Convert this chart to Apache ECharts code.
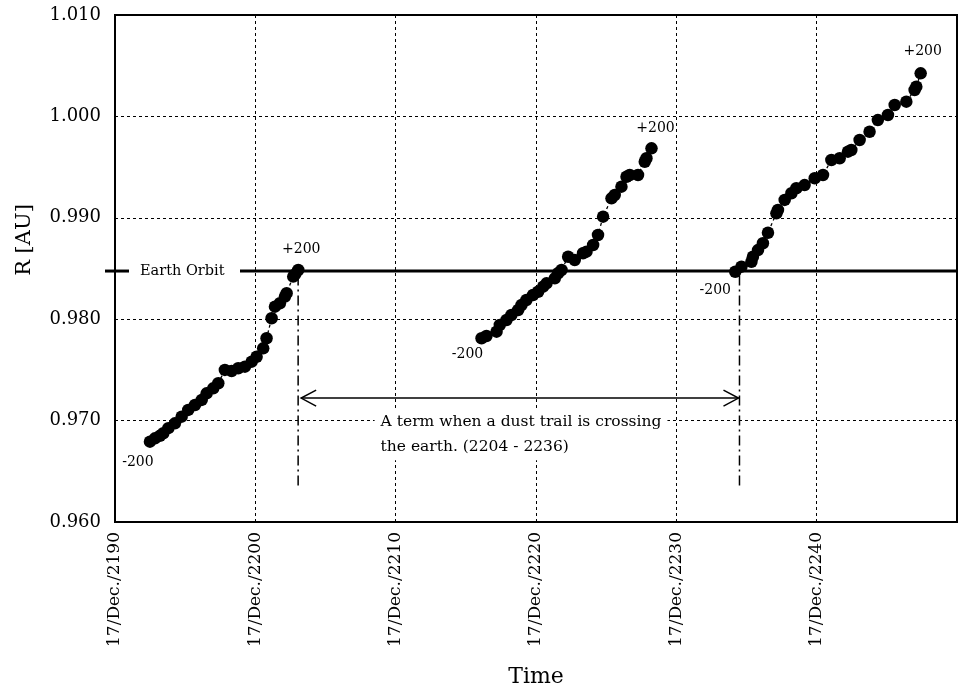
<!DOCTYPE html>
<html><head><meta charset="utf-8">
<script src="https://cdn.jsdelivr.net/npm/echarts@6/dist/echarts.min.js"></script>
<style>html,body{margin:0;padding:0;background:#fff}#c{width:958px;height:691px}</style>
</head><body><div id="c"></div>
<script>
const FONT = 'DejaVu Serif';
const yMin = 0.960, yMax = 1.010, yStep = 0.010;
const xMin = 2190, xMax = 2250, xStep = 10;
const xTickPrefix = '17/Dec./';
const yTitle = 'R [AU]';
const xTitle = 'Time';

const s1Time = [2192.49,2192.85,2193.20,2193.44,2193.80,2194.27,2194.75,2195.22,2195.70,2196.18,2196.53,2197.00,2197.36,2197.83,2198.31,2198.78,2199.26,2199.74,2200.09,2200.56,2200.80,2201.16,2201.40,2201.75,2202.11,2202.23,2202.70,2202.85,2203.06];
const s1R    = [0.96792,0.96825,0.96850,0.96875,0.96925,0.96973,0.97039,0.97105,0.97154,0.97204,0.97269,0.97318,0.97368,0.97500,0.97489,0.97516,0.97532,0.97581,0.97630,0.97713,0.97812,0.98009,0.98124,0.98157,0.98223,0.98257,0.98420,0.98445,0.98485];

const s2Time = [2216.12,2216.47,2217.19,2217.42,2217.90,2218.25,2218.73,2218.97,2219.32,2219.79,2220.15,2220.51,2220.75,2221.34,2221.57,2221.82,2222.29,2222.76,2223.35,2223.60,2224.07,2224.42,2224.78,2225.38,2225.61,2226.09,2226.45,2226.68,2227.27,2227.75,2227.87,2228.23];
const s2R    = [0.97812,0.97834,0.97877,0.97943,0.97992,0.98041,0.98091,0.98140,0.98189,0.98239,0.98271,0.98321,0.98354,0.98403,0.98453,0.98485,0.98616,0.98584,0.98650,0.98666,0.98732,0.98830,0.99011,0.99192,0.99225,0.99307,0.99405,0.99422,0.99422,0.99553,0.99587,0.99685];

const s3Time = [2234.20,2234.64,2235.35,2235.46,2235.82,2236.17,2236.53,2237.13,2237.24,2237.72,2238.20,2238.55,2239.14,2239.86,2240.45,2241.05,2241.64,2242.23,2242.47,2243.06,2243.77,2244.36,2245.08,2245.56,2246.39,2246.98,2247.10,2247.41];
const s3R    = [0.98468,0.98518,0.98567,0.98616,0.98682,0.98749,0.98853,0.99044,0.99077,0.99176,0.99242,0.99291,0.99323,0.99390,0.99422,0.99570,0.99587,0.99652,0.99669,0.99767,0.99849,0.99964,1.00014,1.00112,1.00145,1.00260,1.00293,1.00425];

const endLabels = ['-200', '+200'];
const earthOrbitR = 0.98475;
const earthOrbitText = 'Earth Orbit';
const trailStart = 2203.05, trailEnd = 2234.5;
const trailTopR = 0.9843, trailBottomR = 0.9635;
const arrowR = 0.97222;
const termText = 'A term when a dust trail is crossing\nthe earth. (2204 - 2236)';
const termTextPos = [2208.5, 0.96865];

const labelStyle = {fontFamily: FONT, fontSize: 14, color: '#000'};
const labelOffsets = [
  [[-12, 2], [3, -2]],
  [[-14, -2], [4, -2]],
  [[-20, 0], [2, -4]]
];

function buildData(ts, rs, si) {
  return ts.map((t, i) => {
    const item = {value: [t, rs[i]]};
    if (i === 0 || i === ts.length - 1) {
      const first = i === 0;
      item.label = Object.assign({
        show: true,
        formatter: first ? endLabels[0] : endLabels[1],
        position: first ? 'bottom' : 'top',
        offset: labelOffsets[si][first ? 0 : 1]
      }, labelStyle);
    }
    return item;
  });
}

function mkSeries(ts, rs, si) {
  return {
    type: 'line', data: buildData(ts, rs, si), symbol: 'circle', symbolSize: 12.5,
    showAllSymbol: true, z: 5,
    itemStyle: {color: '#000'},
    lineStyle: {color: '#000', width: 1.3, type: [3, 3]},
    label: {show: false}
  };
}

function renderAnnot(params, api) {
  const cs = params.coordSys;
  const yE = api.coord([xMin, earthOrbitR])[1];
  const right = cs.x + cs.width;
  const ch = [];
  ch.push({type: 'line', shape: {x1: cs.x - 10, y1: yE, x2: cs.x + 14, y2: yE}, style: {stroke: '#000', lineWidth: 3}});
  ch.push({type: 'line', shape: {x1: cs.x + 125, y1: yE, x2: right, y2: yE}, style: {stroke: '#000', lineWidth: 3}});
  ch.push({type: 'text', x: cs.x + 25, y: yE, style: {text: earthOrbitText, font: '14.5px "DejaVu Serif"', fill: '#000', align: 'left', verticalAlign: 'middle'}});
  [trailStart, trailEnd].forEach(t => {
    const a = api.coord([t, trailTopR]), b = api.coord([t, trailBottomR]);
    ch.push({type: 'line', shape: {x1: a[0], y1: a[1], x2: b[0], y2: b[1]}, style: {stroke: '#000', lineWidth: 1.5, lineDash: [10, 4, 2, 4]}});
  });
  const p = api.coord([trailStart, arrowR]), q = api.coord([trailEnd, arrowR]);
  const x1 = p[0] + 3, x2 = q[0] - 1, y = p[1];
  ch.push({type: 'line', shape: {x1: x1, y1: y, x2: x2, y2: y}, style: {stroke: '#000', lineWidth: 1.5}});
  ch.push({type: 'polyline', shape: {points: [[x1 + 15, y - 8], [x1, y], [x1 + 15, y + 8]]}, style: {stroke: '#000', lineWidth: 1.5, fill: null}});
  ch.push({type: 'polyline', shape: {points: [[x2 - 15, y - 8], [x2, y], [x2 - 15, y + 8]]}, style: {stroke: '#000', lineWidth: 1.5, fill: null}});
  const tp = api.coord(termTextPos);
  ch.push({type: 'text', x: tp[0], y: tp[1], style: {text: termText, font: '15.5px "DejaVu Serif"', fill: '#000', align: 'left', verticalAlign: 'middle', lineHeight: 25, backgroundColor: '#fff', padding: [1, 6, 1, 6]}});
  return {type: 'group', children: ch};
}

const chart = echarts.init(document.getElementById('c'), null, {renderer: 'canvas'});
chart.setOption({
  animation: false,
  backgroundColor: '#fff',
  grid: {left: 115, right: 1, top: 15, bottom: 169, containLabel: false, outerBoundsMode: 'none', show: true, borderColor: '#000', borderWidth: 2, backgroundColor: 'transparent'},
  graphic: [
    {type: 'text', x: 25, y: 240, rotation: Math.PI / 2, style: {text: yTitle, font: '21px "DejaVu Serif"', fill: '#000', align: 'center', verticalAlign: 'middle'}}
  ],
  xAxis: {
    type: 'value', min: xMin, max: xMax, interval: xStep,
    name: xTitle, nameLocation: 'middle', nameGap: 144,
    nameTextStyle: {fontFamily: FONT, fontSize: 22, color: '#000'},
    axisLine: {show: true, lineStyle: {color: '#000', width: 2}},
    axisTick: {show: false},
    splitLine: {show: true, lineStyle: {color: '#000', width: 1, type: [3, 3]}},
    axisLabel: {
      rotate: 90, margin: 10, fontFamily: FONT, fontSize: 17, color: '#000',
      formatter: v => (v >= xMax ? '' : xTickPrefix + v)
    }
  },
  yAxis: {
    type: 'value', min: yMin, max: yMax, interval: yStep,
    axisLine: {show: true, lineStyle: {color: '#000', width: 2}},
    axisTick: {show: false},
    splitLine: {show: true, lineStyle: {color: '#000', width: 1, type: [3, 3]}},
    axisLabel: {margin: 14, fontFamily: FONT, fontSize: 18, color: '#000', formatter: v => v.toFixed(3)}
  },
  series: [
    {type: 'custom', renderItem: renderAnnot, data: [[xMin, yMin]], z: 2, silent: true, clip: false},
    mkSeries(s1Time, s1R, 0),
    mkSeries(s2Time, s2R, 1),
    mkSeries(s3Time, s3R, 2)
  ]
});
</script>
</body></html>
